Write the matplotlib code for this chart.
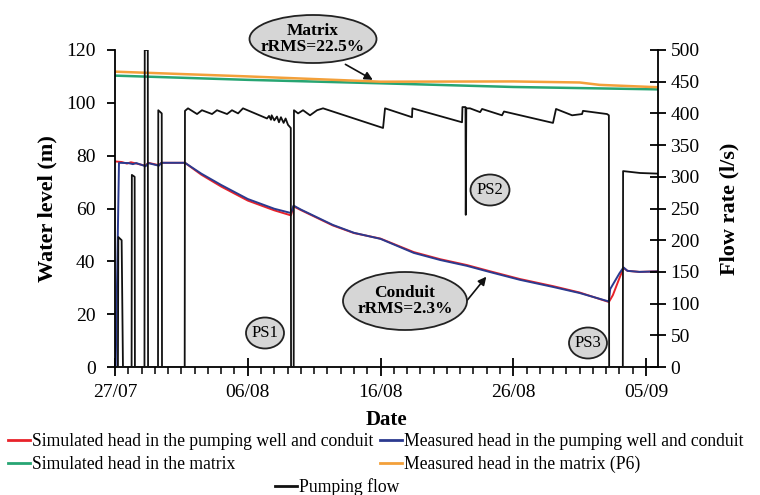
import matplotlib
matplotlib.use("Agg")
import matplotlib.pyplot as plt
from matplotlib.patches import Ellipse
from matplotlib.lines import Line2D

plt.rcParams['font.family'] = ['Liberation Serif', 'DejaVu Serif']

# --- data (x = days since 27/07) ---
tick_days = [0, 10, 20, 30, 40]
tick_labels = ["27/07", "06/08", "16/08", "26/08", "05/09"]

# pumping flow (l/s)
flow_day = [0, 0.22, 0.25, 0.5, 0.6, 1.25, 1.27, 1.48, 1.5, 2.22, 2.24, 2.47, 2.49,
            3.24, 3.26, 3.52, 3.54, 5.25, 5.27, 5.5, 6.18, 6.55, 7.31, 7.68, 8.44,
            8.81, 9.27, 9.64, 11.45, 11.6, 11.75, 11.8, 12.0, 12.2, 12.35, 12.5,
            12.7, 12.85, 13.03, 13.2, 13.24, 13.26, 13.46, 13.48, 13.79, 14.16,
            14.69, 15.22, 15.67, 20.19, 20.34, 22.37, 22.4, 26.14, 26.17, 26.4,
            26.42, 26.46, 26.74, 27.5, 27.65, 29.15, 29.3, 32.99, 33.22, 34.43,
            35.18, 35.25, 37.06, 37.2, 37.22, 38.25, 38.27, 39.55, 40.9]
flow_val = [0, 0, 205, 200, 0, 0, 303, 300, 0, 0, 500, 500, 0,
            0, 405, 400, 0, 0, 404, 408, 399, 405, 399, 405, 399,
            405, 400, 408, 392, 396, 390, 397, 389, 395, 386, 394,
            385, 392, 382, 378, 377, 0, 0, 405, 400, 405,
            397, 405, 408, 377, 408, 394, 408, 386, 410, 410,
            240, 408, 408, 402, 407, 397, 403, 385, 407, 397,
            399, 404, 399, 397, 0, 0, 309, 306, 305]

# measured head in the pumping well and conduit (m)
meas_day = [0.05, 0.3, 1.0, 1.35, 1.6, 2.3, 2.5, 3.3, 3.5, 5.27, 6.5, 8, 10, 12,
            13.25, 13.45, 14, 16.4, 18, 20, 22.5, 24.5, 26.5, 28.2, 30.5, 33,
            35, 37.2, 37.3, 38.0, 38.3, 38.6, 39.5, 40.9]
meas_val = [0, 77.3, 77.2, 76.8, 77.2, 76.0, 77.2, 76.2, 77.3, 77.3, 73.2, 68.9,
            63.6, 59.9, 58.3, 61.1, 59.6, 53.8, 50.8, 48.5, 43.2, 40.5, 38.3,
            36.0, 33.0, 30.3, 28.0, 24.8, 29.5, 35.5, 37.7, 36.4, 36.0, 36.2]

# simulated head in the pumping well and conduit (m)
sim_day = [0.05, 0.5, 0.9, 1.2, 2.3, 2.5, 3.3, 3.5, 5.27, 6.5, 8, 10, 12, 13.25,
           13.45, 14, 16.4, 18, 20, 22.5, 24.5, 26.5, 28.2, 30.5, 33, 35, 37.2,
           37.5, 38.0, 38.3, 38.6, 39.5, 40.9]
sim_val = [77.8, 77.6, 77.0, 77.5, 76.2, 77.3, 76.4, 77.3, 77.3, 72.8, 68.3,
           63.0, 59.3, 57.4, 60.8, 59.4, 53.6, 50.7, 48.6, 43.5, 40.8, 38.6,
           36.3, 33.3, 30.6, 28.2, 24.6, 27.2, 33.7, 37.5, 36.4, 36.0, 36.2]

# heads in the matrix (m)
mat_day = [0, 10, 20, 30, 35, 36.5, 40.9]
mat_meas = [111.8, 110.0, 108.0, 108.1, 107.7, 106.8, 105.9]
mat_sim_day = [0, 10, 20, 30, 40.9]
mat_sim = [110.3, 108.7, 107.4, 106.0, 105.1]

W, H = 760, 495
fig = plt.figure(figsize=(7.6, 4.95), dpi=100)
ax = fig.add_axes([115 / W, 1 - 367 / H, (658 - 115) / W, (367 - 50) / H])
ax2 = ax.twinx()

c_red, c_blue, c_green, c_orange = '#e8222a', '#2b3a8f', '#27a573', '#f3a03a'

ax.plot(sim_day, sim_val, color=c_red, lw=1.4)
ax.plot(meas_day, meas_val, color=c_blue, lw=1.4)
ax.plot(mat_sim_day, mat_sim, color=c_green, lw=1.8)
ax.plot(mat_day, mat_meas, color=c_orange, lw=1.8)
ax2.plot(flow_day, flow_val, color='#111111', lw=1.3)

ax.set_xlim(0, 40.9)
ax.set_ylim(0, 120)
ax2.set_ylim(0, 500)
ax.set_yticks(range(0, 121, 20))
ax2.set_yticks(range(0, 501, 50))
ax.set_xticks(tick_days)
ax.set_xticklabels(tick_labels)
ax.set_xticks(range(0, 41), minor=True)

for a in (ax, ax2):
    a.spines['top'].set_visible(False)
    for s in a.spines.values():
        s.set_linewidth(1.3)
ax.spines['right'].set_visible(False)
ax2.spines['left'].set_visible(False)
ax2.spines['bottom'].set_visible(False)

ax.tick_params(axis='y', direction='out', length=6, width=1.3, labelsize=14, pad=8)
ax.tick_params(axis='x', which='major', direction='inout', length=13, width=1.3,
               labelsize=14, pad=6)
ax.tick_params(axis='x', which='minor', direction='out', length=5, width=1.1)
ax2.tick_params(axis='y', direction='inout', length=12, width=1.3, labelsize=14, pad=3)

ax.set_ylabel("Water level (m)", fontsize=16, fontweight='bold', labelpad=6)
ax2.set_ylabel("Flow rate (l/s)", fontsize=16, fontweight='bold', labelpad=14)
ax.set_xlabel("Date", fontsize=15, fontweight='bold', labelpad=6)


def fp(px, py):
    return (px / W, 1 - py / H)


def bubble(cx, cy, w, h, text, size, weight='normal'):
    e = Ellipse(fp(cx, cy), w / W, h / H, transform=fig.transFigure,
                facecolor='#d6d6d6', edgecolor='#222222', lw=1.3, zorder=5)
    fig.patches.append(e)
    fig.text(cx / W, 1 - cy / H, text, ha='center', va='center', fontsize=size,
             fontweight=weight, linespacing=1.0, zorder=6)


bubble(313, 39, 127, 48, "Matrix\nrRMS=22.5%", 12.5, 'bold')
bubble(405, 301, 124, 58, "Conduit\nrRMS=2.3%", 12.5, 'bold')
bubble(265, 333, 38, 31, "PS1", 12)
bubble(490, 190, 39, 31, "PS2", 12)
bubble(588, 343, 38, 31, "PS3", 12)

ax.annotate("", xy=(19.6, 108.2), xycoords='data', xytext=fp(343, 63),
            textcoords='figure fraction',
            arrowprops=dict(arrowstyle='-|>', color='#111111', lw=1.2,
                            mutation_scale=12))
ax.annotate("", xy=(28.1, 35.0), xycoords='data', xytext=fp(465, 303),
            textcoords='figure fraction',
            arrowprops=dict(arrowstyle='-|>', color='#111111', lw=1.2,
                            mutation_scale=12))

leg_kw = dict(frameon=False, fontsize=12.7, handlelength=1.25, handletextpad=0.1,
              borderpad=0, borderaxespad=0, labelspacing=0.35, loc='upper left')
fig.legend([Line2D([], [], color=c_red, lw=2), Line2D([], [], color=c_green, lw=2)],
           ["Simulated head in the pumping well and conduit",
            "Simulated head in the matrix"],
           bbox_to_anchor=fp(8, 433), **leg_kw)
fig.legend([Line2D([], [], color=c_blue, lw=2), Line2D([], [], color=c_orange, lw=2)],
           ["Measured head in the pumping well and conduit",
            "Measured head in the matrix (P6)"],
           bbox_to_anchor=fp(380, 433), **leg_kw)
fig.legend([Line2D([], [], color='#111111', lw=2)], ["Pumping flow"],
           bbox_to_anchor=fp(275, 478), **leg_kw)

fig.savefig("out.png", dpi=100)
